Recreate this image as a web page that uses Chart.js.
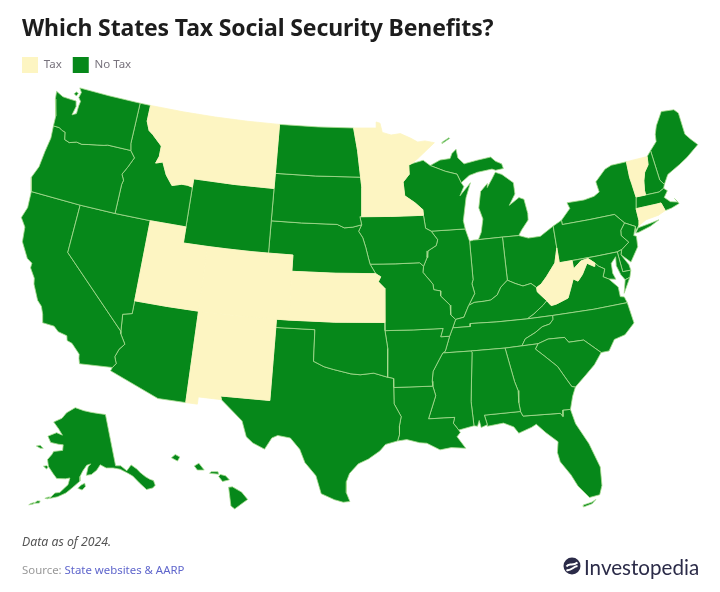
<!DOCTYPE html>
<html>
<head>
<meta charset="utf-8">
<title>Which States Tax Social Security Benefits?</title>
<script src="https://cdn.jsdelivr.net/npm/chart.js@4"></script>
<style>
    body { margin: 0; background: #fff; }
    #page { position: relative; width: 720px; height: 592px; overflow: hidden; font-family: "Noto Sans", sans-serif; }
    #mapChart { position: absolute; left: 0; top: 0; }
    h1 { position: absolute; left: 22px; top: 10px; margin: 0; font-size: 23px; letter-spacing: -0.13px; line-height: 34px; font-weight: 700; color: #1d1d1d; white-space: nowrap; }
    .note { position: absolute; left: 22px; font-size: 11.4px; line-height: 16px; white-space: nowrap; }
    #dataNote { top: 534px; font-size: 12.3px; font-style: italic; color: #555; }
    #source { top: 562px; color: #999; }
    #source span { color: #5f66cc; }
    #logo { position: absolute; left: 563px; top: 557px; }
    #brand { position: absolute; left: 584px; top: 552px; font-family: Lato, sans-serif; font-size: 20.6px; line-height: 30px; color: #2b2b48; white-space: nowrap; }
</style>
</head>
<body>
<div id="page">
    <canvas id="mapChart" width="720" height="592"></canvas>
    <h1>Which States Tax Social Security Benefits?</h1>
    <div class="note" id="dataNote">Data as of 2024.</div>
    <div class="note" id="source">Source: <span>State websites &amp; AARP</span></div>
    <svg id="logo" width="18" height="18" viewBox="0 0 18 18">
        <circle cx="9" cy="9" r="8.5" fill="#2b2b48"/>
        <path d="M3.5 9.5 C6 5 9 10 14.5 5.5 M3.5 13 C8 14.5 10 9.5 14.5 9" stroke="#fff" stroke-width="2" fill="none"/>
    </svg>
    <div id="brand">Investopedia</div>
</div>

<script>
// legend
const legendLabels = ['Tax', 'No Tax'];
const legendColors = ['#fdf5c2', '#06881a'];

// state outlines, [longitude, latitude]
const montana = [[-116.05,49],[-113,49],[-110,49],[-107,49],[-104.05,49],[-104.05,47],[-104.05,45],[-107.5,45],[-111.05,45],[-111.05,44.48],[-111.5,44.55],[-112,44.55],[-112.8,44.37],[-113.45,44.95],[-113.95,45.7],[-114.55,45.55],[-114.35,46],[-114.35,46.65],[-115.3,47.25],[-115.7,47.45],[-116.05,48]];
const utah = [[-114.05,42],[-111.05,42],[-111.05,41],[-109.05,41],[-109.05,37],[-111.5,37],[-114.05,37]];
const colorado = [[-109.05,41],[-105.5,41],[-102.05,41],[-102.05,37],[-105.5,37],[-109.05,37]];
const newMexico = [[-109.05,37],[-106,37],[-103,37],[-103.04,32],[-106.62,32],[-106.53,31.78],[-108.21,31.78],[-108.21,31.33],[-109.05,31.33]];
const kansas = [[-102.05,40],[-98.5,40],[-95.3,40],[-94.9,39.8],[-95.1,39.5],[-94.6,39.1],[-94.62,37],[-98.5,37],[-102.05,37]];
const minnesota = [[-97.23,49],[-95.15,49],[-95.15,49.38],[-94.8,49.3],[-94.6,48.72],[-93.8,48.55],[-92.95,48.62],[-92,48.3],[-91.4,48.05],[-90.75,48.1],[-89.9,47.95],[-90.5,47.6],[-91.5,47],[-92.05,46.72],[-92.3,46.65],[-92.29,46.07],[-92.85,45.6],[-92.75,44.75],[-91.9,44.3],[-91.25,43.85],[-91.22,43.5],[-94,43.5],[-96.45,43.5],[-96.45,45.3],[-96.56,45.94],[-96.85,47.6]];
const westVirginia = [[-82.6,38.17],[-81.97,37.54],[-81.68,37.2],[-81.25,37.25],[-80.3,37.5],[-80,38],[-79.65,38.6],[-79.3,38.42],[-78.87,38.77],[-78.35,39.4],[-77.83,39.13],[-77.72,39.32],[-78.2,39.68],[-78.8,39.6],[-79.48,39.2],[-79.48,39.72],[-80.52,39.72],[-80.52,40.64],[-80.87,39.75],[-81.7,39],[-82.2,38.6],[-82.6,38.42]];
const vermont = [[-73.35,45],[-71.5,45],[-71.6,44.5],[-72.05,44.1],[-72.3,43.6],[-72.45,43],[-72.45,42.73],[-73.27,42.75],[-73.35,43.6],[-73.4,44]];
const connecticut = [[-73.5,42.05],[-71.8,42.02],[-71.85,41.33],[-72.9,41.25],[-73.65,40.98],[-73.5,41.3]];
const rhodeIsland = [[-71.8,42.02],[-71.38,42.02],[-71.2,41.5],[-71.85,41.33]];

const washington = [[-124.7,48.38],[-124.6,47.9],[-124.3,47.3],[-124.1,46.9],[-124.05,46.27],[-123.5,46.27],[-123.2,46.15],[-122.9,46.1],[-122.75,45.65],[-122.3,45.55],[-121.7,45.7],[-121.2,45.65],[-120.6,45.75],[-119.9,45.85],[-119.3,45.93],[-119,46],[-116.92,46],[-117.04,46.42],[-117.03,49],[-120,49],[-122.76,49],[-122.5,48.75],[-122.6,48.4],[-122.35,48.2],[-122.4,47.9],[-122.4,47.4],[-122.75,47.25],[-122.6,47.85],[-122.75,48.15],[-123.2,48.15],[-124,48.17]];
const sanJuanIslands = [[-123.1,48.55],[-122.85,48.45],[-122.75,48.65],[-122.95,48.7]];
const oregon = [[-124.55,42.84],[-124.2,42],[-120,42],[-117.03,42],[-117.03,43.83],[-116.95,44.1],[-117.2,44.45],[-116.85,44.95],[-116.46,45.6],[-116.92,46],[-119,46],[-119.3,45.93],[-119.9,45.85],[-120.6,45.75],[-121.2,45.65],[-121.7,45.7],[-122.3,45.55],[-122.75,45.65],[-122.9,46.1],[-123.2,46.15],[-123.5,46.27],[-124.05,46.27],[-123.95,45.5],[-124.1,44.6],[-124.2,43.6]];
const idaho = [[-117.03,49],[-116.05,49],[-116.05,48],[-115.7,47.45],[-115.3,47.25],[-114.35,46.65],[-114.35,46],[-114.55,45.55],[-113.95,45.7],[-113.45,44.95],[-112.8,44.37],[-112,44.55],[-111.5,44.55],[-111.05,44.48],[-111.05,42],[-114.05,42],[-117.03,42],[-117.03,43.83],[-116.95,44.1],[-117.2,44.45],[-116.85,44.95],[-116.46,45.6],[-116.92,46],[-117.04,46.42]];
const wyoming = [[-111.05,45],[-107.5,45],[-104.05,45],[-104.05,41],[-107.5,41],[-111.05,41]];
const nevada = [[-120,42],[-117.03,42],[-114.05,42],[-114.05,36.2],[-114.75,36.05],[-114.63,35],[-120,39]];
const california = [[-124.2,42],[-120,42],[-120,39],[-114.63,35],[-114.6,34.85],[-114.15,34.27],[-114.5,33.9],[-114.7,33.4],[-114.5,33],[-114.72,32.72],[-117.12,32.53],[-117.25,32.85],[-117.3,33.1],[-118,33.65],[-118.4,33.75],[-118.5,34.03],[-119.2,34.15],[-119.6,34.42],[-120.5,34.45],[-120.65,34.95],[-120.9,35.4],[-121.3,35.7],[-121.9,36.6],[-122,36.95],[-122.5,37.5],[-122.5,37.8],[-122.95,38],[-123.7,38.9],[-123.85,39.8],[-124.35,40.3],[-124.1,41]];
const arizona = [[-114.05,37],[-111.5,37],[-109.05,37],[-109.05,31.33],[-111.07,31.33],[-114.8,32.5],[-114.72,32.72],[-114.5,33],[-114.7,33.4],[-114.5,33.9],[-114.15,34.27],[-114.6,34.85],[-114.63,35],[-114.75,36.05],[-114.05,36.2]];
const northDakota = [[-104.05,49],[-100.5,49],[-97.23,49],[-96.85,47.6],[-96.56,45.94],[-100.5,45.94],[-104.05,45.94]];
const southDakota = [[-104.05,45.94],[-100.5,45.94],[-96.56,45.94],[-96.45,45.3],[-96.45,43.5],[-96.6,43.5],[-96.45,43],[-97.2,42.85],[-97.9,42.8],[-98.5,43],[-101.5,43],[-104.05,43]];
const nebraska = [[-104.05,43],[-101.5,43],[-98.5,43],[-97.9,42.8],[-97.2,42.85],[-96.45,43],[-96.7,42.6],[-96.35,42.2],[-96.1,41.6],[-95.9,41],[-95.75,40.58],[-95.3,40],[-98.5,40],[-102.05,40],[-102.05,41],[-104.05,41]];
const oklahoma = [[-103,37],[-98.5,37],[-94.62,37],[-94.62,36.5],[-94.43,35.4],[-94.48,33.64],[-95.5,33.9],[-96.5,33.8],[-97.2,33.85],[-97.7,33.95],[-98.5,34.1],[-99.2,34.25],[-100,34.56],[-100,36.5],[-103,36.5]];
const texas = [[-103,36.5],[-100,36.5],[-100,34.56],[-99.2,34.25],[-98.5,34.1],[-97.7,33.95],[-97.2,33.85],[-96.5,33.8],[-95.5,33.9],[-94.48,33.64],[-94.04,33.55],[-94.04,33],[-94.04,32],[-93.55,31.2],[-93.7,30.6],[-93.7,30.1],[-93.85,29.7],[-94.7,29.5],[-95.1,29.1],[-95.9,28.6],[-96.6,28.3],[-97.2,27.7],[-97.4,27.2],[-97.4,26.5],[-97.15,25.95],[-97.6,25.9],[-98.2,26.05],[-99.1,26.4],[-99.5,27.5],[-100.3,28.3],[-100.7,29.1],[-101.4,29.77],[-102.3,29.88],[-102.7,29.7],[-103.15,28.98],[-104,29.3],[-104.5,29.65],[-104.9,30.6],[-106,31.4],[-106.53,31.78],[-106.62,32],[-103.04,32]];
const iowa = [[-96.45,43.5],[-94,43.5],[-91.22,43.5],[-91.1,42.7],[-90.65,42.5],[-90.15,41.95],[-90.3,41.6],[-91,41.3],[-91.1,40.9],[-91.42,40.38],[-91.73,40.6],[-93.7,40.58],[-95.75,40.58],[-95.9,41],[-96.1,41.6],[-96.35,42.2],[-96.7,42.6],[-96.45,43],[-96.6,43.5]];
const missouri = [[-95.75,40.58],[-93.7,40.58],[-91.73,40.6],[-91.42,40.38],[-91.5,40],[-90.75,39.25],[-90.7,38.9],[-90.15,38.8],[-90.2,38.5],[-89.5,37.9],[-89.5,37.3],[-89.15,37],[-89.42,36.5],[-89.7,36],[-90.37,36],[-90.15,36.5],[-92.4,36.5],[-94.62,36.5],[-94.62,37],[-94.6,39.1],[-95.1,39.5],[-94.9,39.8],[-95.3,40]];
const arkansas = [[-94.62,36.5],[-92.4,36.5],[-90.15,36.5],[-90.37,36],[-89.7,36],[-90.1,35.1],[-90.3,35],[-90.6,34.6],[-91.1,33.9],[-91.2,33.3],[-91.17,33],[-94.04,33],[-94.04,33.55],[-94.48,33.64],[-94.43,35.4]];
const louisiana = [[-94.04,33],[-91.17,33],[-91,32.4],[-91.6,31],[-89.73,31],[-89.85,30.65],[-89.5,30.2],[-89.4,30.05],[-89.65,29.8],[-89.1,29.05],[-90.1,29.15],[-90.9,29.05],[-91.8,29.5],[-92.3,29.55],[-93.2,29.77],[-93.85,29.7],[-93.7,30.1],[-93.7,30.6],[-93.55,31.2],[-94.04,32]];
const mississippi = [[-91.17,33],[-91.2,33.3],[-91.1,33.9],[-90.6,34.6],[-90.3,35],[-88.2,35],[-88.1,34.9],[-88.47,31.9],[-88.4,30.4],[-89.5,30.2],[-89.85,30.65],[-89.73,31],[-91.6,31],[-91,32.4]];
const alabama = [[-88.2,35],[-85.6,34.98],[-85.18,32.87],[-85,32.3],[-85.05,31.55],[-85,31],[-87.6,31],[-87.45,30.4],[-87.9,30.25],[-88,30.7],[-88.15,30.35],[-88.4,30.4],[-88.47,31.9],[-88.1,34.9]];
const georgia = [[-85.6,34.98],[-83.1,35],[-83.35,34.7],[-82.75,34.2],[-81.9,33.45],[-81.4,32.6],[-81.1,32.1],[-80.85,32.03],[-81.15,31.5],[-81.45,30.72],[-82,30.75],[-82.05,30.36],[-82.2,30.57],[-84.86,30.7],[-85,31],[-85.05,31.55],[-85,32.3],[-85.18,32.87]];
const florida = [[-87.6,31],[-85,31],[-84.86,30.7],[-82.2,30.57],[-82.05,30.36],[-82,30.75],[-81.45,30.72],[-81.25,29.8],[-80.55,28.45],[-80.05,26.9],[-80.15,25.75],[-80.4,25.2],[-81.1,25.13],[-81.75,25.95],[-82.1,26.7],[-82.7,27.6],[-82.8,28.2],[-82.65,28.85],[-83.4,29.5],[-84,30.1],[-84.35,29.95],[-85.3,29.68],[-85.6,30.1],[-86.3,30.4],[-87.45,30.3],[-87.45,30.4]];
const floridaKeys = [[-81.6,24.6],[-81,24.72],[-80.7,24.95],[-81,24.82],[-81.6,24.72]];
const southCarolina = [[-83.1,35],[-82.3,35.2],[-81.05,35.15],[-80.8,34.82],[-79.67,34.8],[-78.55,33.86],[-79.2,33.2],[-79.9,32.7],[-80.85,32.03],[-81.1,32.1],[-81.4,32.6],[-81.9,33.45],[-82.75,34.2],[-83.35,34.7]];
const northCarolina = [[-84.32,35],[-83.1,35],[-82.3,35.2],[-81.05,35.15],[-80.8,34.82],[-79.67,34.8],[-78.55,33.86],[-77.95,33.87],[-77.4,34.5],[-76.55,34.65],[-75.7,35.25],[-75.87,36.55],[-78.5,36.55],[-81.68,36.59],[-81.7,36.35],[-82,36.1],[-82.6,36],[-83.2,35.7],[-84,35.4]];
const tennessee = [[-90.3,35],[-88.2,35],[-85.6,34.98],[-84.32,35],[-84,35.4],[-83.2,35.7],[-82.6,36],[-82,36.1],[-81.7,36.35],[-81.68,36.59],[-83.67,36.6],[-86,36.63],[-88.07,36.68],[-88.07,36.5],[-89.42,36.5],[-89.7,36],[-90.1,35.1]];
const kentucky = [[-89.42,36.5],[-88.07,36.5],[-88.07,36.68],[-86,36.63],[-83.67,36.6],[-83.1,36.85],[-82.3,37.3],[-81.97,37.54],[-82.6,38.17],[-82.6,38.42],[-83,38.72],[-83.65,38.63],[-84.25,38.85],[-84.82,39.1],[-85.4,38.72],[-85.75,38.27],[-86.3,38],[-86.8,37.97],[-87.6,37.95],[-88.05,37.8],[-88.5,37.1],[-89.15,37]];
const virginia = [[-83.67,36.6],[-81.68,36.59],[-78.5,36.55],[-75.87,36.55],[-76,36.93],[-76.3,37],[-76.3,37.6],[-76.9,38.2],[-77.3,38.4],[-77.05,38.85],[-77.5,39.1],[-77.72,39.32],[-77.83,39.13],[-78.35,39.4],[-78.87,38.77],[-79.3,38.42],[-79.65,38.6],[-80,38],[-80.3,37.5],[-81.25,37.25],[-81.68,37.2],[-81.97,37.54],[-82.3,37.3],[-83.1,36.85]];
const virginiaShore = [[-75.95,37.15],[-75.65,37.95],[-75.25,38.03]];
const maryland = [[-79.48,39.72],[-77.5,39.72],[-75.79,39.72],[-75.7,38.46],[-75.05,38.45],[-75.25,38.03],[-75.65,37.95],[-75.9,38.3],[-76.1,38.9],[-76,39.45],[-76.45,39.1],[-76.5,38.5],[-76.35,38.1],[-76.9,38.2],[-77.3,38.4],[-77.05,38.85],[-77.5,39.1],[-77.72,39.32],[-78.2,39.68],[-78.8,39.6],[-79.48,39.2]];
const delaware = [[-75.79,39.72],[-75.4,39.8],[-75.55,39.5],[-75.1,38.8],[-75.05,38.45],[-75.7,38.46]];
const pennsylvania = [[-80.52,42],[-79.76,42.27],[-79.76,42],[-77.5,42],[-75.35,42],[-74.7,41.36],[-75.13,40.97],[-75.2,40.65],[-74.72,40.15],[-75.4,39.8],[-75.79,39.72],[-77.5,39.72],[-80.52,39.72],[-80.52,40.64]];
const newJersey = [[-74.7,41.36],[-73.9,41],[-74.2,40.48],[-74,40.4],[-74.1,39.75],[-74.9,38.93],[-75.55,39.5],[-75.4,39.8],[-74.72,40.15],[-75.2,40.65],[-75.13,40.97]];
const newYork = [[-79.76,42.27],[-79.76,42],[-77.5,42],[-75.35,42],[-74.7,41.36],[-73.9,41],[-74,40.7],[-73.65,40.98],[-73.5,41.3],[-73.5,42.05],[-73.27,42.75],[-73.35,43.6],[-73.4,44],[-73.35,45],[-74.7,45],[-75.3,44.85],[-76.3,44.2],[-76.2,43.55],[-76.7,43.35],[-77.6,43.25],[-79.05,43.27],[-78.9,42.9]];
const longIsland = [[-74,40.6],[-73.75,40.6],[-72.7,40.8],[-71.9,41.05],[-72.6,40.98],[-73.7,40.88]];
const massachusetts = [[-73.5,42.05],[-73.27,42.75],[-72.45,42.73],[-71.3,42.7],[-70.85,42.85],[-70.6,42.65],[-71,42.3],[-70.6,41.95],[-70,41.8],[-70.2,42.07],[-69.95,41.7],[-70.65,41.55],[-71.2,41.5],[-71.38,42.02],[-71.8,42.02]];
const newHampshire = [[-71.5,45],[-71.08,45.3],[-70.98,43.4],[-70.7,43.07],[-70.85,42.85],[-71.3,42.7],[-72.45,42.73],[-72.45,43],[-72.3,43.6],[-72.05,44.1],[-71.6,44.5]];
const maine = [[-71.08,45.3],[-70.4,45.75],[-70.3,46.2],[-70,46.7],[-69.23,47.46],[-68.1,47.35],[-67.8,47.07],[-67.8,45.7],[-67.45,45.3],[-67,44.85],[-68.2,44.3],[-69,44],[-70.2,43.6],[-70.7,43.07],[-70.98,43.4]];
const wisconsin = [[-92.05,46.72],[-91,46.9],[-90.4,46.55],[-89.1,46.13],[-88.1,45.9],[-87.8,45.35],[-87.6,45.1],[-88,44.55],[-87.4,45],[-87,45.3],[-87.5,44.4],[-87.9,43],[-87.8,42.49],[-90.65,42.5],[-91.1,42.7],[-91.22,43.5],[-91.25,43.85],[-91.9,44.3],[-92.75,44.75],[-92.85,45.6],[-92.29,46.07],[-92.3,46.65]];
const illinois = [[-90.65,42.5],[-87.8,42.49],[-87.53,41.72],[-87.53,39.35],[-87.65,39.1],[-87.5,38.5],[-88.05,37.8],[-88.5,37.1],[-89.15,37],[-89.5,37.3],[-89.5,37.9],[-90.2,38.5],[-90.15,38.8],[-90.7,38.9],[-90.75,39.25],[-91.5,40],[-91.42,40.38],[-91.1,40.9],[-91,41.3],[-90.3,41.6],[-90.15,41.95]];
const indiana = [[-87.53,41.72],[-87.2,41.76],[-86.8,41.76],[-84.8,41.76],[-84.82,39.1],[-85.4,38.72],[-85.75,38.27],[-86.3,38],[-86.8,37.97],[-87.6,37.95],[-88.05,37.8],[-87.5,38.5],[-87.65,39.1],[-87.53,39.35]];
const ohio = [[-84.8,41.76],[-83.45,41.73],[-82.7,41.5],[-81.7,41.5],[-80.52,42],[-80.52,40.64],[-80.87,39.75],[-81.7,39],[-82.2,38.6],[-82.6,38.42],[-83,38.72],[-83.65,38.63],[-84.25,38.85],[-84.82,39.1]];
const michiganLower = [[-86.8,41.76],[-84.8,41.76],[-83.45,41.73],[-83.15,42.05],[-82.5,42.6],[-82.45,43],[-82.6,43.9],[-83,44.05],[-83.9,43.65],[-83.3,44.3],[-83.3,45],[-84.2,45.6],[-84.75,45.78],[-85.1,45.4],[-85.6,44.9],[-85.55,45.15],[-86.2,44.7],[-86.5,43.7],[-86.25,43],[-86.5,42.2]];
const michiganUpper = [[-90.4,46.55],[-89.1,46.13],[-88.1,45.9],[-87.8,45.35],[-87.05,45.75],[-86.3,45.9],[-85,46],[-84.7,45.9],[-84,45.95],[-84.1,46.25],[-84.6,46.45],[-85,46.75],[-86.2,46.65],[-87.4,46.5],[-87.9,46.9],[-88,47.45],[-88.4,47.2],[-88.6,46.9],[-89.5,46.85]];
const isleRoyale = [[-89.2,47.87],[-88.5,48.15],[-88.55,48.2],[-89.2,47.95]];

// Alaska, [longitude, latitude]
const alaska = [[-141,69.65],[-141,65],[-141,60.3],[-139.2,60.1],[-137.5,59],[-136.5,59.4],[-135.5,59.8],[-134,58.8],[-133.2,58],[-132,57],[-130.9,56.3],[-130,55.9],[-130,55],[-131,54.7],[-133,54.8],[-134.5,56.3],[-136,57.8],[-137.5,58.6],[-139.7,59.55],[-142,60],[-144.5,60.2],[-146.5,60.9],[-148,60],[-150,59.3],[-151.8,59.2],[-151,60.7],[-150,61.2],[-151.5,61],[-153,60],[-154,59],[-154,58.2],[-156.5,57],[-158.5,56],[-161,55.2],[-163.5,54.7],[-162,55.8],[-160.5,56],[-158,57.5],[-157.5,58.7],[-159,58.5],[-162,58.4],[-163.5,59.2],[-165.5,60.3],[-166.3,61.5],[-165,62.5],[-164.5,63.1],[-161,63.5],[-161,64.5],[-163,64.5],[-166.3,64.6],[-168,65.6],[-164.5,66.5],[-161.8,66.2],[-163.8,67.2],[-166.7,68.3],[-163,69.2],[-161,70.3],[-156.6,71.35],[-152,70.8],[-148,70.4],[-144,70]];
const kodiak = [[-154.7,56.9],[-153.3,56.6],[-152.2,57.2],[-152.4,57.8],[-153.6,57.5]];
const nunivak = [[-167.3,60.2],[-166,59.8],[-165.6,60.2],[-166.2,60.4]];
const stLawrence = [[-171.7,63.4],[-170,63.2],[-168.8,63.3],[-170.3,63.7]];
const unimak = [[-164.9,54.6],[-163.9,54.6],[-163.3,55],[-164,54.9]];
const unalaska = [[-167.8,53.4],[-166.3,53.6],[-166.2,54],[-167.1,53.9]];
const umnak = [[-169.3,52.9],[-168,53.2],[-167.9,53.5],[-168.8,53.2]];

// Hawaii, [longitude, latitude]
const kauai = [[-159.8,22.05],[-159.4,21.85],[-159.25,22.1],[-159.55,22.25]];
const oahu = [[-158.3,21.55],[-158.1,21.3],[-157.65,21.3],[-158,21.72]];
const molokai = [[-157.3,21.1],[-156.7,21.05],[-156.75,21.2],[-157.2,21.2]];
const maui = [[-156.7,20.9],[-156.45,20.6],[-156,20.7],[-156.25,20.95],[-156.6,21.03]];
const bigIsland = [[-156.05,20.25],[-155.9,19.1],[-155.65,18.92],[-155.1,19.3],[-154.8,19.5],[-155.2,19.95],[-155.8,20.27]];

const taxStates = [montana, utah, colorado, newMexico, kansas, minnesota, westVirginia, vermont, connecticut, rhodeIsland];
const noTaxStates = [washington, sanJuanIslands, oregon, idaho, wyoming, nevada, california, arizona, northDakota, southDakota, nebraska, oklahoma, texas, iowa, missouri, arkansas, louisiana, mississippi, alabama, georgia, florida, floridaKeys, southCarolina, northCarolina, tennessee, kentucky, virginia, virginiaShore, maryland, delaware, pennsylvania, newJersey, newYork, longIsland, massachusetts, newHampshire, maine, wisconsin, illinois, indiana, ohio, michiganLower, michiganUpper, isleRoyale];
const alaskaParts = [alaska, kodiak, nunivak, stLawrence, unimak, unalaska, umnak];
const hawaiiParts = [kauai, oahu, molokai, maui, bigIsland];

const edgeColor = '#a9dc92';
const rad = Math.PI / 180;

// Albers equal-area, returns unit map coordinates
function albers(lon, lat, lat1, lat2, lat0, lon0) {
    const n = (Math.sin(lat1 * rad) + Math.sin(lat2 * rad)) / 2;
    const c = Math.cos(lat1 * rad) ** 2 + 2 * n * Math.sin(lat1 * rad);
    const rho = Math.sqrt(c - 2 * n * Math.sin(lat * rad)) / n;
    const rho0 = Math.sqrt(c - 2 * n * Math.sin(lat0 * rad)) / n;
    const theta = n * (lon - lon0) * rad;
    return [rho * Math.sin(theta), rho0 - rho * Math.cos(theta)];
}

function lower48Point(p) {
    const m = albers(p[0], p[1], 29.5, 45.5, 37.5, -96);
    return { x: 367 + m[0] * 938, y: 315 - m[1] * 924 };
}

function alaskaPoint(p) {
    const m = albers(p[0], p[1], 55, 65, 50, -154);
    return { x: 80 + m[0] * 320, y: 527 - m[1] * 320 };
}

function hawaiiPoint(p) {
    return { x: 237 + (p[0] + 155.5) * 15.25, y: 498 - (p[1] - 19.6) * 16.3 };
}

function makeDataset(outline, toPoint, fillColor, lineColor) {
    const points = outline.map(toPoint);
    points.push(points[0]);
    return {
        data: points,
        showLine: true,
        fill: 'shape',
        backgroundColor: fillColor,
        borderColor: lineColor,
        borderWidth: 0.8,
        pointRadius: 0,
        tension: 0
    };
}

// first dataset is painted last, so the tax states keep their pale edges
const datasets = [];
taxStates.forEach(s => datasets.push(makeDataset(s, lower48Point, legendColors[0], legendColors[0])));
noTaxStates.forEach(s => datasets.push(makeDataset(s, lower48Point, legendColors[1], edgeColor)));
alaskaParts.forEach(s => datasets.push(makeDataset(s, alaskaPoint, legendColors[1], edgeColor)));
hawaiiParts.forEach(s => datasets.push(makeDataset(s, hawaiiPoint, legendColors[1], edgeColor)));

new Chart(document.getElementById('mapChart'), {
    type: 'scatter',
    data: { datasets: datasets },
    options: {
        responsive: false,
        animation: false,
        events: [],
        layout: { padding: { left: 11, top: 46, right: 0, bottom: 0 } },
        scales: {
            x: { type: 'linear', min: 11, max: 720, display: false },
            y: { type: 'linear', min: 84, max: 592, reverse: true, display: false }
        },
        plugins: {
            title: { display: false },
            tooltip: { enabled: false },
            legend: {
                position: 'top',
                align: 'start',
                onClick: null,
                labels: {
                    boxWidth: 16,
                    boxHeight: 16,
                    padding: 11,
                    font: { family: 'Noto Sans', size: 11.5 },
                    generateLabels: () => legendLabels.map((text, i) => ({
                        text: text,
                        fillStyle: legendColors[i],
                        strokeStyle: legendColors[i],
                        fontColor: '#77727c',
                        lineWidth: 0,
                        hidden: false,
                        datasetIndex: i
                    }))
                }
            }
        }
    }
});
</script>
</body>
</html>
